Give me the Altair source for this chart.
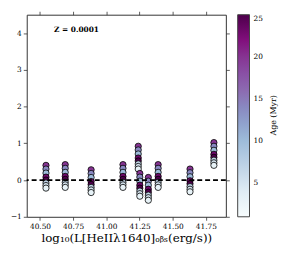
import altair as alt
import pandas as pd

FONT = "DejaVu Serif"

# luminosity bins (x) and line ratio values per age (y)
lum_bins = [40.545, 40.69, 40.885, 41.125, 41.24, 41.252, 41.316, 41.39, 41.63, 41.81]
ages = [20, 14, 10, 23, 25, 7, 5, 3]
ratio_cols = [
    [0.40, 0.30, 0.19, 0.08, 0.00, -0.08, -0.15, -0.22],
    [0.42, 0.32, 0.21, 0.10, 0.02, -0.06, -0.13, -0.20],
    [0.28, 0.18, 0.07, -0.04, -0.12, -0.20, -0.27, -0.34],
    [0.42, 0.32, 0.21, 0.10, 0.02, -0.06, -0.13, -0.20],
    [0.92, 0.82, 0.71, 0.60, 0.52, 0.44, 0.37, 0.30],
    [0.18, 0.08, -0.03, -0.14, -0.22, -0.30, -0.37, -0.44],
    [0.07, -0.03, -0.14, -0.25, -0.33, -0.41, -0.48, -0.55],
    [0.42, 0.32, 0.21, 0.10, 0.02, -0.06, -0.13, -0.20],
    [0.30, 0.20, 0.09, -0.02, -0.10, -0.18, -0.25, -0.32],
    [1.02, 0.92, 0.81, 0.70, 0.62, 0.54, 0.47, 0.40],
]
x_ticks = [40.50, 40.75, 41.00, 41.25, 41.50, 41.75]
y_ticks = [-1, 0, 1, 2, 3, 4]
age_ticks = [5, 10, 15, 20, 25]
# BuPu colour stops
bupu_domain = [1, 4, 7, 10, 13, 16, 19, 22, 25]
bupu_range = ["#f7fcfd", "#e0ecf4", "#bfd3e6", "#9ebcda", "#8c96c6",
              "#8c6bb1", "#88419d", "#810f7c", "#4d004b"]

rows = []
for x, ys in zip(lum_bins, ratio_cols):
    for a, y in zip(ages, ys):
        rows.append({"lum": x, "ratio": y, "age": a})
df = pd.DataFrame(rows)
df["order"] = range(len(df))

xscale = alt.Scale(domain=[40.4, 41.9], nice=False, zero=False)
yscale = alt.Scale(domain=[-1, 4.5], nice=False, zero=False)

points = alt.Chart(df).mark_circle(size=40, stroke="black", strokeWidth=0.8, opacity=1).encode(
    x=alt.X("lum:Q", scale=xscale,
            axis=alt.Axis(values=x_ticks, format=".2f",
                          title="log₁₀(L[HeIIλ1640]ₒᵦₛ(erg/s))",
                          titleFontSize=12, titlePadding=3)),
    y=alt.Y("ratio:Q", scale=yscale, axis=alt.Axis(values=y_ticks, title=None)),
    color=alt.Color("age:Q", scale=alt.Scale(domain=bupu_domain, range=bupu_range),
                    legend=alt.Legend(orient="none", legendX=214, legendY=0,
                                      direction="vertical", gradientLength=205,
                                      gradientThickness=12, values=age_ticks,
                                      title=None,
                                      labelFont=FONT, labelFontSize=7.5, labelColor="black",
                                      labelOffset=4, gradientStrokeColor="#444",
                                      gradientStrokeWidth=1)),
    order="order:Q",
)

frame = alt.Chart(df).mark_point(opacity=0).encode(
    x=alt.X("lum:Q", scale=xscale,
            axis=alt.Axis(orient="top", values=x_ticks, labels=False, title=None)),
    y=alt.Y("ratio:Q", scale=yscale,
            axis=alt.Axis(orient="right", values=y_ticks, labels=False, title=None)),
)

zero_line = alt.Chart(pd.DataFrame({"ratio": [0]})).mark_rule(
    color="black", strokeDash=[5, 3], strokeWidth=1.8
).encode(y=alt.Y("ratio:Q", scale=yscale, axis=None))

label = alt.Chart(pd.DataFrame({"lum": [40.606], "ratio": [4.07], "t": ["Z = 0.0001"]})).mark_text(
    align="left", baseline="middle", font=FONT, fontWeight="bold", fontSize=7.5, color="black"
).encode(x=alt.X("lum:Q", scale=xscale, axis=None),
         y=alt.Y("ratio:Q", scale=yscale, axis=None), text="t:N")

cbar_title = alt.Chart(pd.DataFrame({"lum": [42.265], "ratio": [1.76], "t": ["Age (Myr)"]})).mark_text(
    align="center", baseline="middle", font=FONT, fontSize=8, angle=270, color="black"
).encode(x=alt.X("lum:Q", scale=xscale, axis=None),
         y=alt.Y("ratio:Q", scale=yscale, axis=None), text="t:N")

chart = alt.layer(points, zero_line, label, cbar_title, frame).resolve_axis(
    x="independent", y="independent"
).properties(
    width=202, height=205,
    autosize=alt.AutoSizeParams(type="none"),
    padding={"left": 19, "top": 5, "right": 60, "bottom": 40},
).configure_view(stroke="#333", strokeWidth=1).configure_axis(
    domain=False, grid=False, tickSize=3.5, tickColor="#333", tickWidth=0.8,
    labelFont=FONT, labelFontSize=7.5, labelColor="black", labelPadding=2,
    titleFont=FONT, titleFontWeight="normal", titleColor="black",
)

chart.save("out.html", embed_options={"renderer": "svg", "actions": False})
